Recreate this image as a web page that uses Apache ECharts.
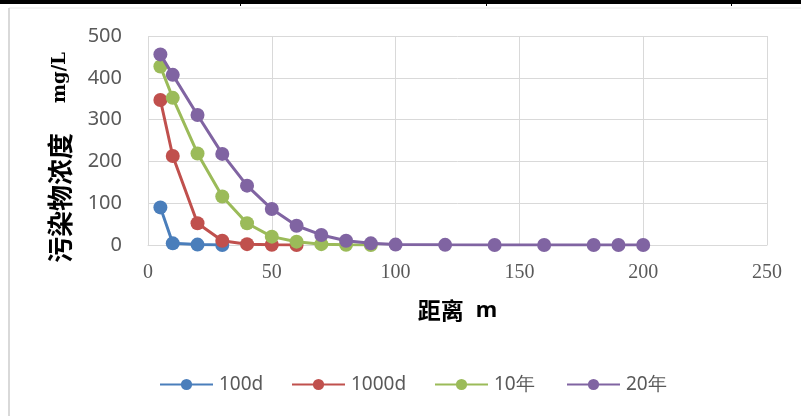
<!DOCTYPE html>
<html><head><meta charset="utf-8">
<script src="https://cdn.jsdelivr.net/npm/echarts@6/dist/echarts.min.js"></script>
<style>html,body{margin:0;padding:0;background:#fff}#c{width:801px;height:416px}</style>
</head><body><div id="c"></div>
<script>
var xTicks = [0, 50, 100, 150, 200, 250];
var yTicks = [0, 100, 200, 300, 400, 500];
var seriesNames = ['100d', '1000d', '10年', '20年'];
var x100d = [5, 10, 20, 30];
var y100d = [90, 4, 1, 0];
var x1000d = [5, 10, 20, 30, 40, 50, 60];
var y1000d = [347, 213, 52, 10, 2, 0.5, 0];
var x10y = [5, 10, 20, 30, 40, 50, 60, 70, 80, 90];
var y10y = [427, 352, 219, 116, 52, 20, 8, 2, 0.5, 0];
var x20y = [5, 10, 20, 30, 40, 50, 60, 70, 80, 90, 100, 120, 140, 160, 180, 190, 200];
var y20y = [456, 407, 311, 218, 142, 86, 46, 24, 10, 4, 1, 0.3, 0.1, 0, 0, 0, 0];
var colors = ['#4A7EBB', '#C0504D', '#9BBB59', '#8064A2'];

function pairs(xs, ys) { return xs.map(function (x, i) { return [x, ys[i]]; }); }
var allData = [pairs(x100d, y100d), pairs(x1000d, y1000d), pairs(x10y, y10y), pairs(x20y, y20y)];

var legendLefts = [159, 291, 434, 566];
var legends = seriesNames.map(function (n, i) {
  return {
    data: [n], top: 375, left: legendLefts[i], padding: 0,
    itemWidth: 53, itemHeight: 14, itemGap: 0,
    textStyle: {fontFamily: 'Noto Sans', fontSize: 19, color: '#595959', padding: [0, 0, 0, 1]}
  };
});

var chart = echarts.init(document.getElementById('c'), null, {renderer: 'canvas'});
chart.setOption({
  animation: false,
  backgroundColor: '#fff',
  color: colors,
  graphic: [
    {type: 'rect', shape: {x: 0, y: 0, width: 801, height: 4}, style: {fill: '#000'}, z: 100},
    {type: 'rect', shape: {x: 240, y: 0, width: 1, height: 6}, style: {fill: '#000'}, z: 100},
    {type: 'rect', shape: {x: 486, y: 0, width: 1, height: 6}, style: {fill: '#000'}, z: 100},
    {type: 'rect', shape: {x: 731, y: 0, width: 1, height: 6}, style: {fill: '#000'}, z: 100},
    {type: 'line', shape: {x1: 9, y1: 8, x2: 801, y2: 8}, style: {stroke: '#e6e6e6', lineWidth: 1}},
    {type: 'line', shape: {x1: 9, y1: 8, x2: 9, y2: 416}, style: {stroke: '#d9d9d9', lineWidth: 2}}
  ],
  legend: legends,
  grid: {left: 148, right: 34, top: 36, bottom: 171},
  xAxis: {
    type: 'value', min: 0, max: 250, interval: 50,
    name: '{a|距离}{s|}{b|m}', nameLocation: 'middle', nameGap: 54,
    nameTextStyle: {
      rich: {
        a: {fontFamily: 'Noto Sans CJK SC', fontWeight: 'bold', fontSize: 23, color: '#000'},
        s: {width: 12},
        b: {fontFamily: 'Noto Sans', fontWeight: 'bold', fontSize: 22, color: '#000'}
      }
    },
    axisLine: {show: true, lineStyle: {color: '#d9d9d9'}},
    axisTick: {show: false},
    axisLabel: {fontFamily: 'Liberation Serif', fontSize: 20, color: '#595959', margin: 18,
      formatter: function (v) { return xTicks.indexOf(v) >= 0 ? String(v) : ''; }},
    splitLine: {show: true, lineStyle: {color: '#d9d9d9'}}
  },
  yAxis: {
    type: 'value', min: 0, max: 500, interval: 100,
    name: '{a|污染物浓度}{s|}{b|mg/L}{c|}', nameLocation: 'middle', nameGap: 75,
    nameTextStyle: {
      rich: {
        a: {fontFamily: 'Noto Sans CJK SC', fontWeight: 'bold', fontSize: 26, color: '#000'},
        s: {width: 30},
        b: {fontFamily: 'DejaVu Serif', fontWeight: 'bold', fontSize: 18, color: '#000'},
        c: {width: 34}
      }
    },
    axisLine: {show: false},
    axisTick: {show: false},
    axisLabel: {fontFamily: 'Noto Sans', fontSize: 20, color: '#595959', margin: 26,
      formatter: function (v) { return yTicks.indexOf(v) >= 0 ? String(v) : ''; }},
    splitLine: {show: true, lineStyle: {color: '#d9d9d9'}}
  },
  series: seriesNames.map(function (n, i) {
    return {
      name: n, type: 'line', data: allData[i],
      symbol: 'circle', symbolSize: 14,
      lineStyle: {width: 3, color: colors[i]},
      itemStyle: {color: colors[i]},
      z: 2 + i
    };
  })
});
</script></body></html>
